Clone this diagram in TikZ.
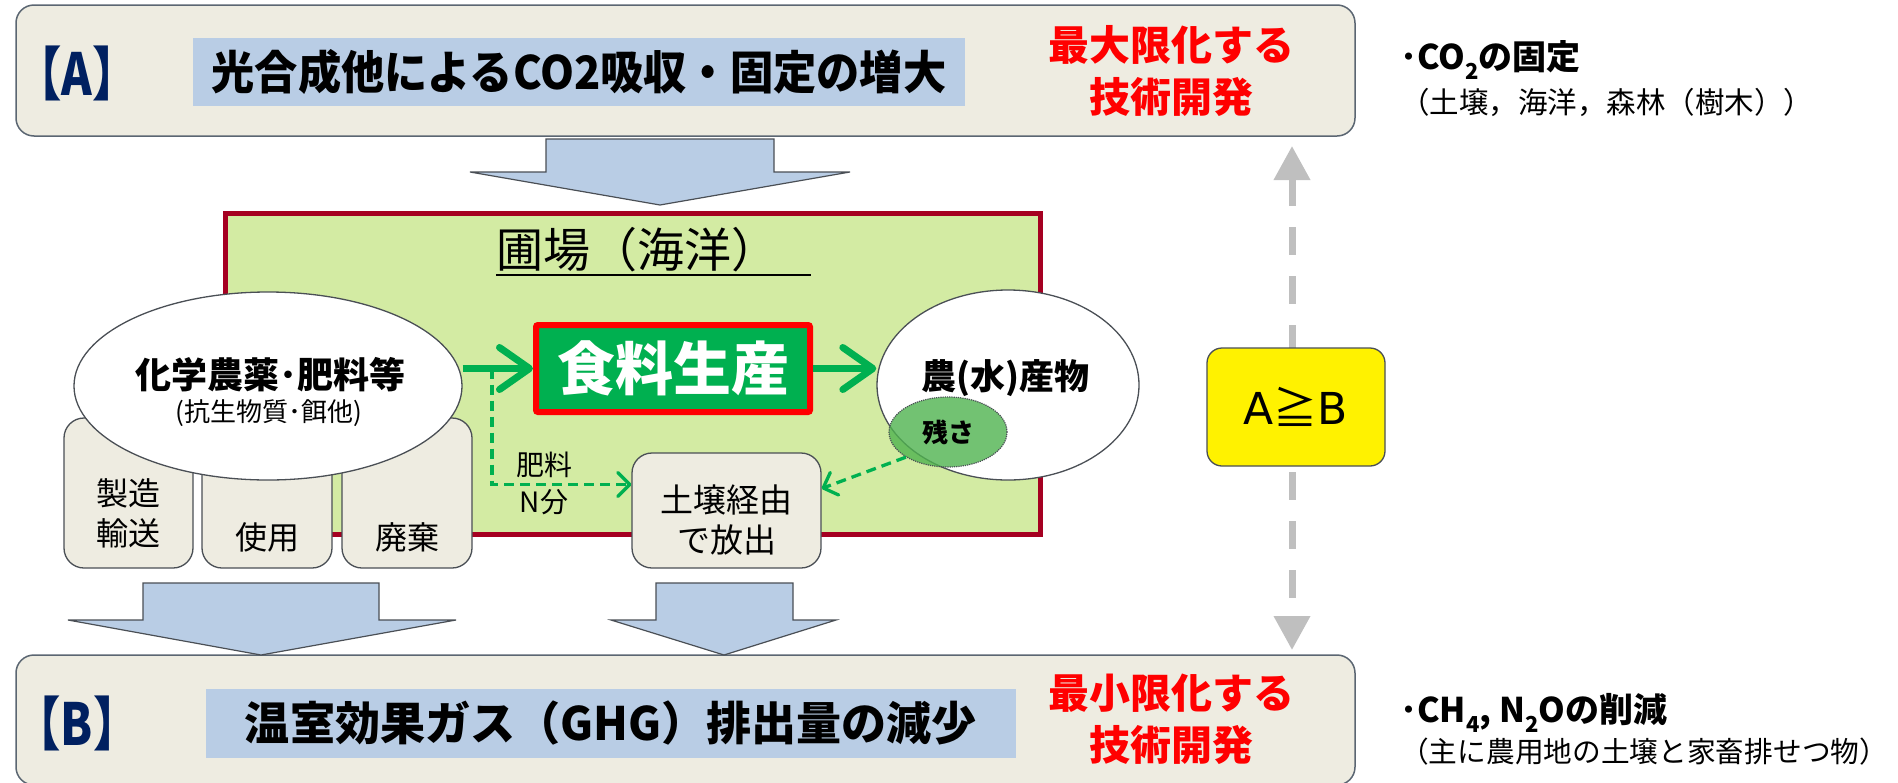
\documentclass[tikz,border=0pt]{standalone}
\usepackage{fontspec}
\setmainfont{Noto Sans CJK JP}
\newfontfamily\latinsans{DejaVu Sans}
\usepackage{graphicx}
\usetikzlibrary{shapes.geometric,arrows.meta,calc}
\definecolor{panelfill}{HTML}{EEECE1}
\definecolor{panelline}{HTML}{5B6672}
\definecolor{labelblue}{HTML}{B9CDE5}
\definecolor{fieldfill}{HTML}{D3EBA3}
\definecolor{fieldline}{HTML}{A50021}
\definecolor{leafgreen}{HTML}{00B050}
\definecolor{navytag}{HTML}{002060}
\definecolor{residue}{HTML}{4FB34F}
\definecolor{grayarrow}{HTML}{BFBFBF}
\definecolor{edgegray}{HTML}{4A4F55}
\newcommand{\setfs}[2]{\fontsize{#1}{#2}\selectfont}
\begin{document}
\begin{tikzpicture}[x=1pt,y=-1pt,
  panel/.style={draw=panelline, fill=panelfill, rounded corners=18pt, line width=1.5pt, inner sep=0},
  bluelabel/.style={fill=labelblue, inner sep=0},
  tagtext/.style={text=navytag, font=\setfs{58}{58}\bfseries, inner sep=0},
  goaltext/.style={text=red, font=\setfs{41}{52}\bfseries, align=center, inner sep=0},
  blockarrow/.style={fill=labelblue, draw=edgegray, line width=1.2pt, line join=miter},
  fieldbox/.style={draw=fieldline, fill=fieldfill, line width=5pt, inner sep=0},
  smallbox/.style={draw=edgegray, fill=panelfill, rounded corners=20pt, line width=1.3pt, inner sep=0},
  boxtext/.style={font=\setfs{32}{40}, align=center, inner sep=0},
  oval/.style={ellipse, draw=edgegray, fill=white, line width=1.3pt, inner sep=0},
  foodbox/.style={draw=red, fill=leafgreen, line width=6pt, rounded corners=2pt, inner sep=0, text=white, font=\setfs{58}{58}\bfseries},
  greenarrow/.style={draw=leafgreen, line width=7pt, -{Straight Barb[length=30pt,width=42pt,round]}},
  dashgreen/.style={draw=leafgreen, line width=3.3pt, dash pattern=on 10pt off 6pt, -{Straight Barb[length=12pt,width=24pt,round]}},
  grayline/.style={draw=grayarrow, line width=7pt, dash pattern=on 28pt off 21pt, {Triangle[length=34pt,width=35pt]}-{Triangle[length=34pt,width=35pt]}},
  yellowbox/.style={draw=edgegray, fill=yellow, rounded corners=15pt, line width=1.3pt, inner sep=0, font=\setfs{44}{44}},
  sidehead/.style={anchor=west, inner sep=0, font=\setfs{34}{34}\bfseries},
  sidenote/.style={anchor=west, inner sep=0, font=\setfs{29.5}{29.5}}
]
\useasboundingbox (0,0) rectangle (1898,782);

% ---- panels A and B
\node[panel, minimum width=1339pt, minimum height=131pt] (A) at (685.5,70.5) {};
\node[panel, minimum width=1339pt, minimum height=130pt] (B) at (685.5,720) {};

\node[bluelabel, minimum width=772pt, minimum height=68pt] (Alabel) at (579,72)
  {\scalebox{0.94}[1]{\setfs{46}{46}\bfseries 光合成他によるCO2吸収・固定の増大}};
\node[tagtext] (Atag) at (77,73) {\scalebox{0.8}[1]{【A】}};
\node[goaltext] (Agoal) at (1171,71) {最大限化する\\技術開発};

\node[bluelabel, minimum width=810pt, minimum height=69pt] (Blabel) at (611,723.5)
  {\scalebox{0.98}[1]{\setfs{46}{46}\bfseries 温室効果ガス（GHG）排出量の減少}};
\node[tagtext] (Btag) at (77,723) {\scalebox{0.8}[1]{【B】}};
\node[goaltext] (Bgoal) at (1171,719) {最小限化する\\技術開発};

% ---- block arrows
\draw[blockarrow] (546,139) -- (774,139) -- (774,172) -- (850,172) -- (660,205) -- (470,172) -- (546,172) -- cycle;
\draw[blockarrow] (143,583) -- (379,583) -- (379,620) -- (456,620) -- (261,655) -- (68,620) -- (143,620) -- cycle;
\draw[blockarrow] (656,583) -- (793,583) -- (793,620) -- (836,620) -- (724,655) -- (611,620) -- (656,620) -- cycle;

% ---- field
\node[fieldbox, minimum width=815pt, minimum height=321pt] (field) at (633,374) {};
\node[inner sep=0, text width=315pt, align=left, font=\setfs{47}{47}] (title) at (653.5,250) {圃場（海洋）};
\draw[line width=2.5pt] ([yshift=-2.5pt]title.south west) -- ([yshift=-2.5pt]title.south east);

% ---- small boxes
\node[smallbox, minimum width=129pt, minimum height=150pt] (make) at (128.5,493) {};
\node[smallbox, minimum width=130pt, minimum height=150pt] (use) at (267,493) {};
\node[smallbox, minimum width=130pt, minimum height=150pt] (waste) at (407,493) {};
\node[boxtext] (maketext) at (128.5,513) {製造\\輸送};
\node[boxtext] (usetext) at (267,537) {使用};
\node[boxtext] (wastetext) at (407,537) {廃棄};

% ---- chemicals ellipse
\node[oval, minimum width=388pt, minimum height=188pt] (chem) at (268,386) {};
\node[inner sep=0, font=\setfs{36}{36}\bfseries] (chemtext) at (270,375) {化学農薬･肥料等};
\node[inner sep=0, font=\setfs{26}{26}] (chemsub) at (269,413) {(抗生物質･餌他)};

% ---- food production
\node[foodbox, minimum width=274pt, minimum height=87pt] (food) at (673,368.5) {食料生産};

% ---- product ellipse
\node[oval, minimum width=262pt, minimum height=190pt] (prod) at (1008,385) {};
\node[inner sep=0, font=\setfs{35}{35}\bfseries] (prodtext) at (1005,378) {農(水)産物};
\node[ellipse, draw=edgegray, densely dotted, line width=1.2pt, fill=residue, fill opacity=0.8, text opacity=1,
      minimum width=118pt, minimum height=70pt, inner sep=0, font=\setfs{26}{26}\bfseries] (res) at (948,432) {残さ};

% ---- soil box
\node[smallbox, minimum width=189pt, minimum height=115pt] (soil) at (726.5,510.5) {};
\node[boxtext, font=\setfs{33}{40}] (soiltext) at (726.5,520) {土壌経由\\で放出};

% ---- green connectors
\draw[greenarrow] (chem.east |- food.west) -- (food.west);
\draw[greenarrow] (food.east) -- (prod.west |- food.east);
\coordinate (branch) at (492,368.5);
\draw[dashgreen] (branch) |- ([yshift=26pt]soil.west);
\node[inner sep=0, font=\setfs{28}{28}] (fert) at (544,465) {肥料};
\node[inner sep=0, font=\setfs{28}{28}] (nfrac) at (544,502) {N分};
\draw[dashgreen] (res.south west) -- ([yshift=22pt]soil.east);

% ---- A >= B
\coordinate (gtop) at (1292,146);
\coordinate (gbot) at (1292,650);
\draw[grayline] (gtop) -- (gbot);
\node[yellowbox, minimum width=178pt, minimum height=118pt] (ab) at (1296,407) {{\latinsans A}≧{\latinsans B}};

% ---- side notes
\node[sidehead] (co2) at (1400,60) {･CO\raisebox{-0.3em}{\setfs{22}{22}2}の固定};
\node[sidenote] (co2note) at (1400,102) {（土壌，海洋，森林（樹木））};
\node[sidehead] (ch4) at (1400,713) {･CH\raisebox{-0.3em}{\setfs{22}{22}4}, N\raisebox{-0.3em}{\setfs{22}{22}2}Oの削減};
\node[sidenote, font=\setfs{28.7}{28.7}] (ch4note) at (1400,752) {（主に農用地の土壌と家畜排せつ物）};
\end{tikzpicture}
\end{document}
